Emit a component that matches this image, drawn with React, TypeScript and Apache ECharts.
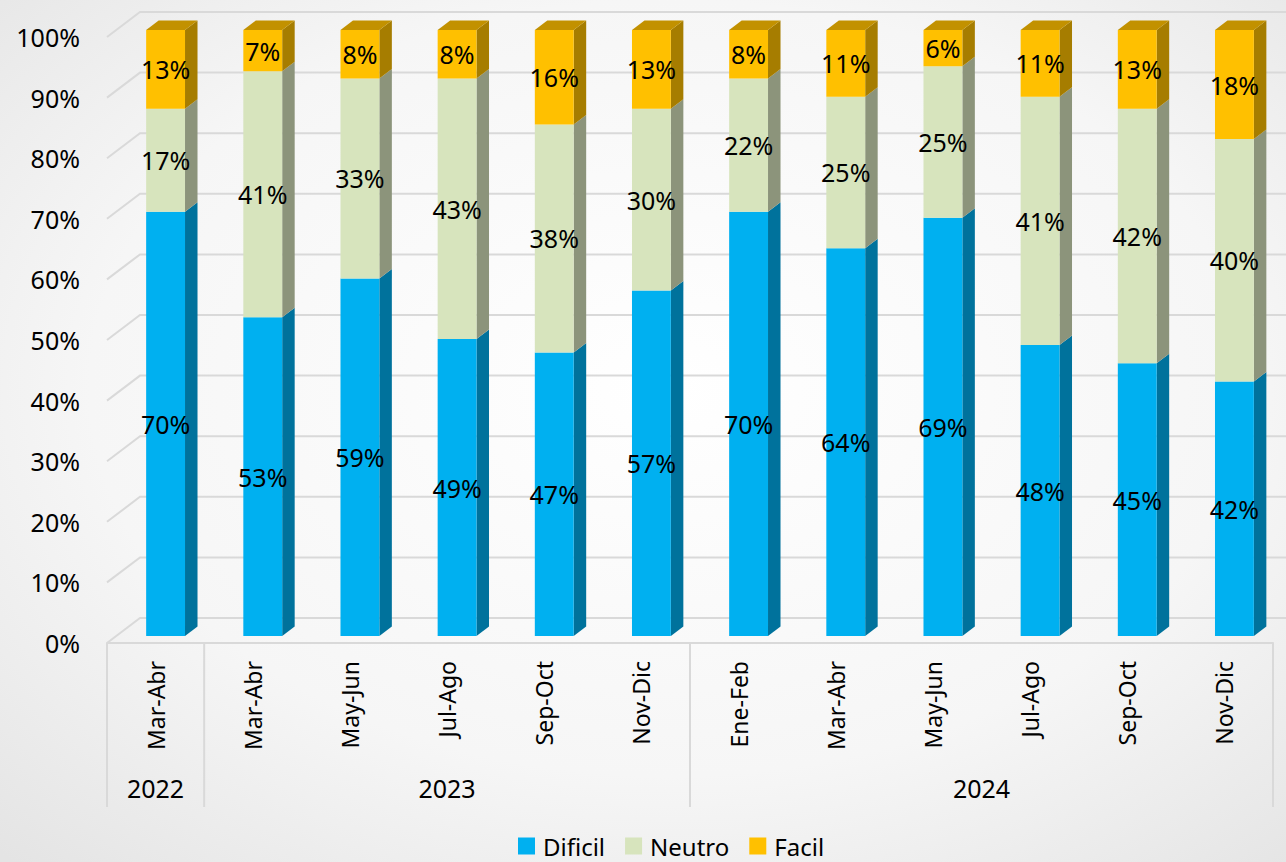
import React, { useEffect, useRef } from 'react';
import * as echarts from 'echarts';

// periods on the axis, grouped by year underneath
const periods = ['Mar-Abr', 'Mar-Abr', 'May-Jun', 'Jul-Ago', 'Sep-Oct', 'Nov-Dic', 'Ene-Feb', 'Mar-Abr', 'May-Jun', 'Jul-Ago', 'Sep-Oct', 'Nov-Dic'];
const yearLabels = ['2022', '2023', '2024'];
const yearFrom = [0, 1, 6];
const yearTo = [0, 5, 11];

// shares in percent (labels are rounded)
const dificil = [70, 52.6, 59, 49, 46.8, 57, 70, 64, 69, 48, 45, 42];
const neutro = [17, 40.6, 33, 43, 37.6, 30, 22, 25, 25, 41, 42, 40];
const facil = [13, 6.8, 8, 8, 15.6, 13, 8, 11, 6, 11, 13, 18];

const yTicks = [0, 10, 20, 30, 40, 50, 60, 70, 80, 90, 100];

const FONT = '"Noto Sans", "Open Sans", sans-serif';

// fake 3d offsets
const WALL_DX = 33;
const WALL_DY = 25;
const PLANE_DX = 10;
const PLANE_DY = 7;
const BAR_DX = 12.5;
const BAR_DY = 9.5;

const barRenderer = (front: string, side: string, top: string) => (params: any, api: any) => {
  const i = api.value(0);
  const base = api.value(1);
  const v = api.value(2);
  const cx = api.coord([i, 0])[0] + PLANE_DX;
  const yb = api.coord([i, base])[1] - PLANE_DY;
  const yt = api.coord([i, base + v])[1] - PLANE_DY;
  const w = api.size([1, 0])[0] * 0.4;
  const xl = cx - w / 2;
  const xr = cx + w / 2;
  const children: any[] = [
    {
      type: 'polygon',
      shape: { points: [[xr, yt], [xr + BAR_DX, yt - BAR_DY], [xr + BAR_DX, yb - BAR_DY], [xr, yb]] },
      style: { fill: side },
    },
    { type: 'rect', shape: { x: xl, y: yt, width: w, height: yb - yt }, style: { fill: front } },
  ];
  if (base + v >= 99.5) {
    children.push({
      type: 'polygon',
      shape: { points: [[xl, yt], [xl + BAR_DX, yt - BAR_DY], [xr + BAR_DX, yt - BAR_DY], [xr, yt]] },
      style: { fill: top },
    });
  }
  children.push({
    type: 'text',
    style: {
      text: Math.round(v) + '%',
      x: cx,
      y: (yt + yb) / 2,
      align: 'center',
      verticalAlign: 'middle',
      fontSize: 25,
      fontFamily: FONT,
      fill: '#000',
    },
  });
  return { type: 'group', children };
};

const App: React.FC = () => {
  const chartRef = useRef<HTMLDivElement>(null);

  useEffect(() => {
    document.body.style.margin = '0';
    if (!chartRef.current) return;
    const chart = echarts.init(chartRef.current, null, { renderer: 'svg' });

    const option = {
      animation: false,
      backgroundColor: new echarts.graphic.RadialGradient(0.52, 0.45, 0.75, [
        { offset: 0, color: '#ffffff' },
        { offset: 0.6, color: '#f6f6f6' },
        { offset: 1, color: '#e4e4e4' },
      ]),
      grid: { left: 107, top: 37, width: 1166, height: 606 },
      legend: {
        data: ['Dificil', 'Neutro', 'Facil'],
        left: 513,
        top: 829,
        icon: 'rect',
        itemWidth: 17,
        itemHeight: 17,
        itemGap: 20,
        selectedMode: false,
        textStyle: { fontSize: 24, fontFamily: FONT, color: '#000', padding: [0, 0, 0, 3] },
      },
      xAxis: {
        type: 'category',
        data: periods,
        axisTick: { show: false },
        axisLine: { show: true, lineStyle: { color: '#d9d9d9', width: 2 } },
        axisLabel: { rotate: 90, margin: 18, fontSize: 23, fontFamily: FONT, color: '#000', interval: 0 },
        splitLine: { show: false },
      },
      yAxis: {
        type: 'value',
        min: 0,
        max: 100,
        interval: 10,
        axisLine: { show: false },
        axisTick: { show: false },
        splitLine: { show: false },
        axisLabel: {
          formatter: '{value}%',
          margin: 27,
          fontSize: 25,
          fontFamily: FONT,
          color: '#000',
          padding: [6, 0, 0, 0],
        },
      },
      series: [
        {
          type: 'custom',
          silent: true,
          data: yTicks.map(v => [0, v]),
          encode: { x: 0, y: 1 },
          renderItem: (params: any, api: any) => {
            const cs = params.coordSys;
            const y = api.coord([0, api.value(1)])[1];
            return {
              type: 'polyline',
              shape: {
                points: [
                  [cs.x, y],
                  [cs.x + WALL_DX, y - WALL_DY],
                  [cs.x + cs.width + WALL_DX, y - WALL_DY],
                ],
              },
              style: { stroke: '#d9d9d9', lineWidth: 2, fill: 'none' },
            };
          },
        },
        {
          type: 'custom',
          silent: true,
          data: yearLabels.map((y, k) => [yearFrom[k], 0, yearTo[k], y]),
          encode: { x: 0, y: 1 },
          renderItem: (params: any, api: any) => {
            const cs = params.coordSys;
            const band = api.size([1, 0])[0];
            const x0 = api.coord([api.value(0), 0])[0] - band / 2;
            const x1 = api.coord([api.value(2), 0])[0] + band / 2;
            const yAxisLine = cs.y + cs.height;
            const children: any[] = [
              {
                type: 'line',
                shape: { x1: x0, y1: yAxisLine, x2: x0, y2: yAxisLine + 164 },
                style: { stroke: '#d9d9d9', lineWidth: 2 },
              },
              {
                type: 'text',
                style: {
                  text: yearLabels[params.dataIndex],
                  x: (x0 + x1) / 2,
                  y: yAxisLine + 145,
                  align: 'center',
                  verticalAlign: 'middle',
                  fontSize: 25,
                  fontFamily: FONT,
                  fill: '#000',
                },
              },
            ];
            if (params.dataIndex === yearLabels.length - 1) {
              children.push({
                type: 'line',
                shape: { x1: x1, y1: yAxisLine, x2: x1, y2: yAxisLine + 164 },
                style: { stroke: '#d9d9d9', lineWidth: 2 },
              });
            }
            return { type: 'group', children };
          },
        },
        {
          name: 'Dificil',
          type: 'custom',
          silent: true,
          itemStyle: { color: '#00b0f0' },
          data: dificil.map((v, i) => [i, 0, v]),
          encode: { x: 0, y: 2 },
          renderItem: barRenderer('#00b0f0', '#00729c', '#0090c4'),
        },
        {
          name: 'Neutro',
          type: 'custom',
          silent: true,
          itemStyle: { color: '#d7e4bd' },
          data: neutro.map((v, i) => [i, dificil[i], v]),
          encode: { x: 0, y: 2 },
          renderItem: barRenderer('#d7e4bd', '#8c947b', '#b0bb9a'),
        },
        {
          name: 'Facil',
          type: 'custom',
          silent: true,
          itemStyle: { color: '#ffc000' },
          data: facil.map((v, i) => [i, dificil[i] + neutro[i], v]),
          encode: { x: 0, y: 2 },
          renderItem: barRenderer('#ffc000', '#a67d00', '#c29100'),
        },
      ],
    };

    chart.setOption(option);
    return () => {
      chart.dispose();
    };
  }, []);

  return <div ref={chartRef} style={{ width: '1286px', height: '862px' }} />;
};

export default App;
